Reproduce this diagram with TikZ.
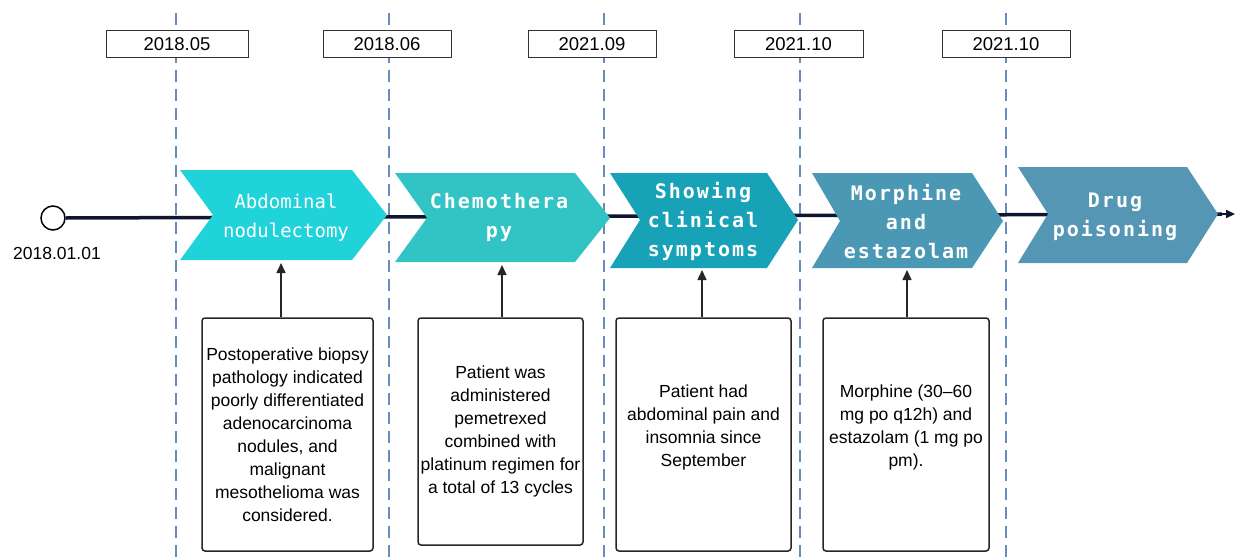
\documentclass[tikz,border=0pt]{standalone}
\usepackage{fontspec}
\setmainfont{Liberation Sans}
\newfontfamily\chevreg{DejaVu Sans Mono}
\newfontfamily\chevbold[LetterSpace=10]{DejaVu Sans Mono}
\usetikzlibrary{arrows.meta}
\definecolor{dashblue}{RGB}{104,140,190}
\definecolor{tlnavy}{RGB}{16,22,48}
\definecolor{cA}{RGB}{32,210,218}
\definecolor{cB}{RGB}{50,196,196}
\definecolor{cC}{RGB}{24,162,184}
\definecolor{cD}{RGB}{74,152,180}
\definecolor{cE}{RGB}{84,150,180}
\begin{document}
\begin{tikzpicture}[x=1pt,y=-1pt,
  vline/.style={draw=dashblue, line width=2.5pt, dash pattern=on 12pt off 7pt},
  datebox/.style={draw=black!80, line width=1pt, fill=white, minimum height=27pt, inner sep=0pt, font=\fontsize{18.5}{20}\selectfont},
  descbox/.style={draw=black!85, line width=1.5pt, rounded corners=3pt, fill=white, align=center, inner sep=0pt, font=\fontsize{17.5}{23}\selectfont},
  chevtxt/.style={text=white, align=center, inner sep=0pt},
  chevA/.style={font=\chevreg\fontsize{19}{29}\selectfont},
  chevB/.style={font=\chevbold\bfseries\fontsize{20}{29}\selectfont},
  timeline/.style={draw=tlnavy, line width=3.5pt},
  uparrow/.style={draw=black!85, line width=1.5pt, -{Triangle[length=10pt,width=9pt]}}
]
\path[use as bounding box] (0,0) rectangle (1236,557);

% dashed vertical lines
\foreach \x in {176,389,604,800,1006}{
  \draw[vline] (\x,13) -- (\x,557);
}

% date boxes
\node[datebox, minimum width=142pt] (d1) at (177,44) {2018.05};
\node[datebox, minimum width=128pt] (d2) at (387,44) {2018.06};
\node[datebox, minimum width=128pt] (d3) at (592,44) {2021.09};
\node[datebox, minimum width=129pt] (d4) at (798.5,44) {2021.10};
\node[datebox, minimum width=128pt] (d5) at (1006,44) {2021.10};

% timeline
\node[circle, draw=black, line width=1.5pt, fill=white, minimum size=24pt, inner sep=0pt] (start) at (53,218) {};
\node[font=\fontsize{17.5}{20}\selectfont] (startlbl) at (57,253) {2018.01.01};
\coordinate (tlend) at (1235,214);
\draw[timeline] (start.east) -- (1222,214);
\draw[draw=tlnavy, line width=2pt, -{Triangle[length=9pt,width=8pt]}] (1215,214) -- (tlend);

% chevrons
\fill[cA] (180,170) -- (352,170) -- (387,215) -- (352,260) -- (180,260) -- (213,215) -- cycle;
\fill[cB] (395,173) -- (575,173) -- (610,218) -- (575,262) -- (395,262) -- (427,218) -- cycle;
\fill[cC] (610,173) -- (767,173) -- (798,220) -- (767,268) -- (610,268) -- (640,220) -- cycle;
\fill[cD] (812,173) -- (972,173) -- (1003,221) -- (972,268) -- (812,268) -- (840,221) -- cycle;
\fill[cE] (1018,167) -- (1187,167) -- (1218,214) -- (1187,263) -- (1018,263) -- (1048,214) -- cycle;

\node[chevtxt, chevA] (n1) at (286,217.5) {Abdominal\\nodulectomy};
\node[chevtxt, chevB] (n2) at (499,217.5) {Chemothera\\py};
\node[chevtxt, chevB] (n3) at (703,221.5) {Showing\\clinical\\symptoms};
\node[chevtxt, chevB] (n4) at (906,221.5) {Morphine\\and\\estazolam};
\node[chevtxt, chevB] (n5) at (1115,216.5) {Drug\\poisoning};

% description boxes
\node[descbox, minimum width=171pt, minimum height=233pt] (b1) at (287.5,434.5)
  {Postoperative biopsy\\pathology indicated\\poorly differentiated\\adenocarcinoma\\nodules, and\\malignant\\mesothelioma was\\considered.};
\node[descbox, minimum width=165pt, minimum height=227pt] (b2) at (500.5,431.5)
  {Patient was\\administered\\pemetrexed\\combined with\\platinum regimen for\\a total of 13 cycles};
\node[descbox, minimum width=175pt, minimum height=233pt] (b3) at (703.5,434.5) {};
\node[descbox, minimum width=166pt, minimum height=233pt] (b4) at (906,434.5) {};
\node[descbox, draw=none, fill=none] (b3t) at (703.5,427)
  {Patient had\\abdominal pain and\\insomnia since\\September};
\node[descbox, draw=none, fill=none] (b4t) at (906,427)
  {Morphine (30--60\\mg po q12h) and\\estazolam (1 mg po\\pm).};

% arrows up to chevrons
\coordinate (t1) at (281,263);
\coordinate (t2) at (502,265);
\coordinate (t3) at (702,270);
\coordinate (t4) at (907,270);
\draw[uparrow] (b1.north -| t1) -- (t1);
\draw[uparrow] (b2.north -| t2) -- (t2);
\draw[uparrow] (b3.north -| t3) -- (t3);
\draw[uparrow] (b4.north -| t4) -- (t4);
\end{tikzpicture}
\end{document}
